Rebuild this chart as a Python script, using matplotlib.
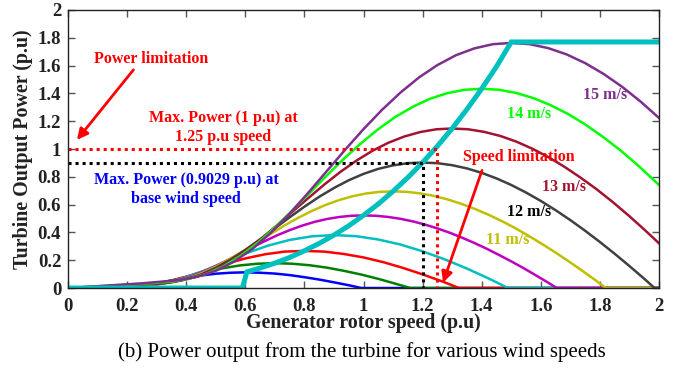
import matplotlib
matplotlib.use("Agg")
import matplotlib.pyplot as plt

plt.rcParams['font.family'] = ['Liberation Serif', 'DejaVu Serif']
plt.rcParams['font.weight'] = 'bold'

# turbine output power (p.u) vs generator rotor speed (p.u), one curve per wind speed
wind_labels = ['6 m/s', '7 m/s', '8 m/s', '9 m/s', '10 m/s',
               '11 m/s', '12 m/s', '13 m/s', '14 m/s', '15 m/s']

x_6 = [0, 0.05, 0.1, 0.15, 0.2, 0.25, 0.3, 0.35, 0.4, 0.45, 0.5, 0.55, 0.6,
       0.65, 0.7, 0.75, 0.8, 0.85, 0.9, 0.95, 0.993, 2]
p_6 = [0, 0.001, 0.002, 0.004, 0.008, 0.018, 0.034, 0.054, 0.073, 0.090, 0.103,
       0.110, 0.113, 0.110, 0.104, 0.093, 0.078, 0.061, 0.041, 0.020, 0, 0]

x_7 = [0, 0.058, 0.117, 0.175, 0.233, 0.292, 0.35, 0.408, 0.467, 0.525, 0.583,
       0.642, 0.7, 0.758, 0.817, 0.875, 0.933, 0.992, 1.05, 1.108, 1.158, 2]
p_7 = [0, 0.002, 0.003, 0.006, 0.013, 0.029, 0.054, 0.085, 0.116, 0.143, 0.163,
       0.175, 0.179, 0.175, 0.164, 0.147, 0.124, 0.097, 0.066, 0.031, 0, 0]

x_8 = [0, 0.067, 0.133, 0.2, 0.267, 0.333, 0.4, 0.467, 0.533, 0.6, 0.667,
       0.733, 0.8, 0.867, 0.933, 1.0, 1.067, 1.133, 1.2, 1.267, 1.323, 2]
p_8 = [0, 0.003, 0.005, 0.009, 0.019, 0.043, 0.081, 0.127, 0.173, 0.213, 0.243,
       0.262, 0.267, 0.262, 0.245, 0.220, 0.186, 0.145, 0.098, 0.047, 0, 0]

x_9 = [0, 0.075, 0.15, 0.225, 0.3, 0.375, 0.45, 0.525, 0.6, 0.675, 0.75,
       0.825, 0.9, 0.975, 1.05, 1.125, 1.2, 1.275, 1.35, 1.425, 1.489, 2]
p_9 = [0, 0.004, 0.007, 0.012, 0.027, 0.061, 0.116, 0.181, 0.247, 0.304, 0.346,
       0.372, 0.381, 0.373, 0.349, 0.313, 0.264, 0.206, 0.140, 0.067, 0, 0]

x_10 = [0, 0.083, 0.167, 0.25, 0.292, 0.333, 0.375, 0.417, 0.458, 0.5, 0.542,
        0.583, 0.625, 0.667, 0.708, 0.75, 0.792, 0.833, 0.875, 0.917, 0.958,
        1.0, 1.042, 1.083, 1.125, 1.167, 1.208, 1.25, 1.292, 1.333, 1.375,
        1.417, 1.458, 1.5, 1.542, 1.583, 1.625, 1.654, 2]
p_10 = [0, 0.0050, 0.0100, 0.0168, 0.0240, 0.0367, 0.0565, 0.0840, 0.1186,
        0.1587, 0.2028, 0.2488, 0.2946, 0.3387, 0.3798, 0.4166, 0.4487, 0.4752,
        0.4961, 0.5108, 0.5197, 0.5224, 0.5197, 0.5113, 0.4979, 0.4794, 0.4563,
        0.4289, 0.3975, 0.3625, 0.3241, 0.2826, 0.2384, 0.1916, 0.1426, 0.0915,
        0.0385, 0, 0]

x_11 = [0, 0.092, 0.183, 0.275, 0.321, 0.367, 0.413, 0.458, 0.504, 0.55, 0.596,
        0.642, 0.688, 0.733, 0.779, 0.825, 0.871, 0.917, 0.963, 1.008, 1.054,
        1.1, 1.146, 1.192, 1.238, 1.283, 1.329, 1.375, 1.421, 1.467, 1.513,
        1.558, 1.604, 1.65, 1.696, 1.742, 1.788, 1.82, 2]
p_11 = [0, 0.0066, 0.0133, 0.0223, 0.0319, 0.0488, 0.0753, 0.1118, 0.1578,
        0.2113, 0.2699, 0.3311, 0.3921, 0.4508, 0.5055, 0.5545, 0.5973, 0.6325,
        0.6603, 0.6798, 0.6917, 0.6953, 0.6918, 0.6806, 0.6627, 0.6381, 0.6073,
        0.5709, 0.5291, 0.4825, 0.4313, 0.3762, 0.3173, 0.2550, 0.1898, 0.1218,
        0.0513, 0, 0]

x_12 = [0, 0.1, 0.2, 0.3, 0.35, 0.4, 0.45, 0.5, 0.55, 0.6, 0.65, 0.7, 0.75,
        0.8, 0.85, 0.9, 0.95, 1.0, 1.05, 1.1, 1.15, 1.2, 1.25, 1.3, 1.35, 1.4,
        1.45, 1.5, 1.55, 1.6, 1.65, 1.7, 1.75, 1.8, 1.85, 1.9, 1.95, 1.985, 2]
p_12 = [0, 0.0086, 0.0173, 0.0290, 0.0414, 0.0634, 0.0977, 0.1451, 0.2049,
        0.2743, 0.3504, 0.4299, 0.5090, 0.5853, 0.6563, 0.7199, 0.7754, 0.8212,
        0.8573, 0.8826, 0.8980, 0.9027, 0.8981, 0.8836, 0.8603, 0.8284, 0.7885,
        0.7412, 0.6869, 0.6264, 0.5600, 0.4884, 0.4119, 0.3311, 0.2464, 0.1581,
        0.0666, 0, 0]

x_13 = [0, 0.108, 0.217, 0.325, 0.379, 0.433, 0.488, 0.542, 0.596, 0.65, 0.704,
        0.758, 0.813, 0.867, 0.921, 0.975, 1.029, 1.083, 1.138, 1.192, 1.246,
        1.3, 1.354, 1.408, 1.463, 1.517, 1.571, 1.625, 1.679, 1.733, 1.788,
        1.842, 1.896, 1.95, 2]
p_13 = [0, 0.0109, 0.0220, 0.0369, 0.0526, 0.0806, 0.1242, 0.1845, 0.2605,
        0.3487, 0.4455, 0.5466, 0.6471, 0.7442, 0.8344, 0.9153, 0.9859, 1.0441,
        1.0900, 1.1222, 1.1417, 1.1477, 1.1419, 1.1234, 1.0938, 1.0532, 1.0025,
        0.9424, 0.8733, 0.7964, 0.7120, 0.6210, 0.5237, 0.4210, 0.3217]

x_14 = [0, 0.117, 0.233, 0.35, 0.408, 0.467, 0.525, 0.583, 0.642, 0.7, 0.758,
        0.817, 0.875, 0.933, 0.992, 1.05, 1.108, 1.167, 1.225, 1.283, 1.342,
        1.4, 1.458, 1.517, 1.575, 1.633, 1.692, 1.75, 1.808, 1.867, 1.925,
        1.983, 2]
p_14 = [0, 0.0137, 0.0275, 0.0461, 0.0657, 0.1007, 0.1551, 0.2304, 0.3254,
        0.4356, 0.5564, 0.6827, 0.8083, 0.9294, 1.0422, 1.1432, 1.2313, 1.3040,
        1.3614, 1.4015, 1.4260, 1.4335, 1.4262, 1.4031, 1.3661, 1.3155, 1.2521,
        1.1770, 1.0908, 0.9947, 0.8893, 0.7756, 0.7416]

x_15 = [0, 0.125, 0.25, 0.375, 0.4375, 0.5, 0.5625, 0.625, 0.6875, 0.75,
        0.8125, 0.875, 0.9375, 1.0, 1.0625, 1.125, 1.1875, 1.25, 1.3125, 1.375,
        1.4375, 1.5, 1.5625, 1.625, 1.6875, 1.75, 1.8125, 1.875, 1.9375, 2]
p_15 = [0, 0.0168, 0.0338, 0.0566, 0.0809, 0.1238, 0.1908, 0.2834, 0.4002,
        0.5357, 0.6844, 0.8396, 0.9941, 1.1432, 1.2818, 1.4061, 1.5145, 1.6039,
        1.6744, 1.7238, 1.7539, 1.7631, 1.7541, 1.7258, 1.6803, 1.6180, 1.5400,
        1.4477, 1.3416, 1.2234]

# maximum power point / speed limited operating curve
x_mppt = [0, 0.59, 0.605, 0.65, 0.7, 0.75, 0.8, 0.85, 0.9, 0.95, 1.0, 1.05, 1.1,
          1.15, 1.2, 1.25, 1.3, 1.35, 1.4, 1.45, 1.5, 2]
p_mppt = [0, 0, 0.116, 0.144, 0.179, 0.220, 0.268, 0.321, 0.381, 0.448, 0.523,
          0.605, 0.696, 0.795, 0.903, 1.021, 1.148, 1.286, 1.434, 1.593, 1.77, 1.77]

rated_speed = 1.2
rated_power = 0.9029
limit_speed = 1.25
limit_power = 1.0

curves_x = [x_6, x_7, x_8, x_9, x_10, x_11, x_12, x_13, x_14, x_15]
curves_p = [p_6, p_7, p_8, p_9, p_10, p_11, p_12, p_13, p_14, p_15]
colors = ['#0000ff', '#007f00', '#ff0000', '#00bfbf', '#bf00bf',
          '#bfbf00', '#404040', '#a2142f', '#00ff00', '#7e2f8e']


def main():
    fig = plt.figure(figsize=(6.81, 3.77), dpi=100)
    ax = fig.add_axes([0.1, 0.236, 0.8677, 0.7375])

    for xs, ps, c in zip(curves_x, curves_p, colors):
        ax.plot(xs, ps, color=c, lw=1.8, solid_joinstyle='round')

    ax.plot(x_mppt, p_mppt, color='#00bfbf', lw=3.6, solid_joinstyle='miter')

    # dotted guide lines
    ax.plot([0, rated_speed, rated_speed], [rated_power, rated_power, 0],
            color='black', ls=(0, (1, 1.3)), lw=2.2)
    ax.plot([0, limit_speed, limit_speed], [limit_power, limit_power, 0],
            color='#ff0000', ls=(0, (1, 1.3)), lw=2.2)

    tf = dict(fontsize=11.5, fontweight='bold', ha='center', va='center')
    ax.text(0.28, 1.65, 'Power limitation', color='#ff0000', **tf)
    ax.annotate('', xy=(0.024, 1.05), xytext=(0.227, 1.585),
                arrowprops=dict(arrowstyle='-|>', color='#ff0000', lw=2,
                                mutation_scale=16))
    ax.text(0.525, 1.158, 'Max. Power (1 p.u) at\n1.25 p.u speed',
            color='#ff0000', linespacing=1.25, **tf)
    ax.text(0.40, 0.712, 'Max. Power (0.9029 p.u) at\nbase wind speed',
            color='#0000ff', linespacing=1.25, **tf)
    ax.text(1.526, 0.94, 'Speed limitation', color='#ff0000', **tf)
    ax.annotate('', xy=(1.266, 0.02), xytext=(1.404, 0.865),
                arrowprops=dict(arrowstyle='-|>', color='#ff0000', lw=2,
                                mutation_scale=16))

    ax.text(1.817, 1.388, wind_labels[9], color=colors[9], **tf)
    ax.text(1.561, 1.25, wind_labels[8], color=colors[8], **tf)
    ax.text(1.68, 0.727, wind_labels[7], color=colors[7], **tf)
    ax.text(1.56, 0.547, wind_labels[6], color='black', **tf)
    ax.text(1.489, 0.345, wind_labels[5], color=colors[5], **tf)

    ticks = [0, 0.2, 0.4, 0.6, 0.8, 1, 1.2, 1.4, 1.6, 1.8, 2]
    tick_labels = ['0', '0.2', '0.4', '0.6', '0.8', '1', '1.2', '1.4', '1.6', '1.8', '2']
    ax.set_xlim(0, 2)
    ax.set_ylim(0, 2)
    ax.set_xticks(ticks)
    ax.set_xticklabels(tick_labels)
    ax.set_yticks(ticks)
    ax.set_yticklabels(tick_labels)
    ax.tick_params(direction='in', top=True, right=True, length=5, width=1,
                   color='#555555', labelsize=13.5, labelcolor='#222222', pad=5)
    ax.tick_params(axis='x', pad=7)
    for s in ax.spines.values():
        s.set_color('#222222')
        s.set_linewidth(1)

    ax.set_xlabel('Generator rotor speed (p.u)', fontsize=14.4, fontweight='bold',
                  color='#222222', labelpad=-1)
    ax.set_ylabel('Turbine Output Power (p.u)', fontsize=14.4, fontweight='bold',
                  color='#222222', labelpad=3)

    fig.text(0.532, 0.066, '(b) Power output from the turbine for various wind speeds',
             fontsize=15, fontweight='normal', ha='center', va='center')

    fig.savefig('out.png', dpi=100)


if __name__ == "__main__":
    main()
